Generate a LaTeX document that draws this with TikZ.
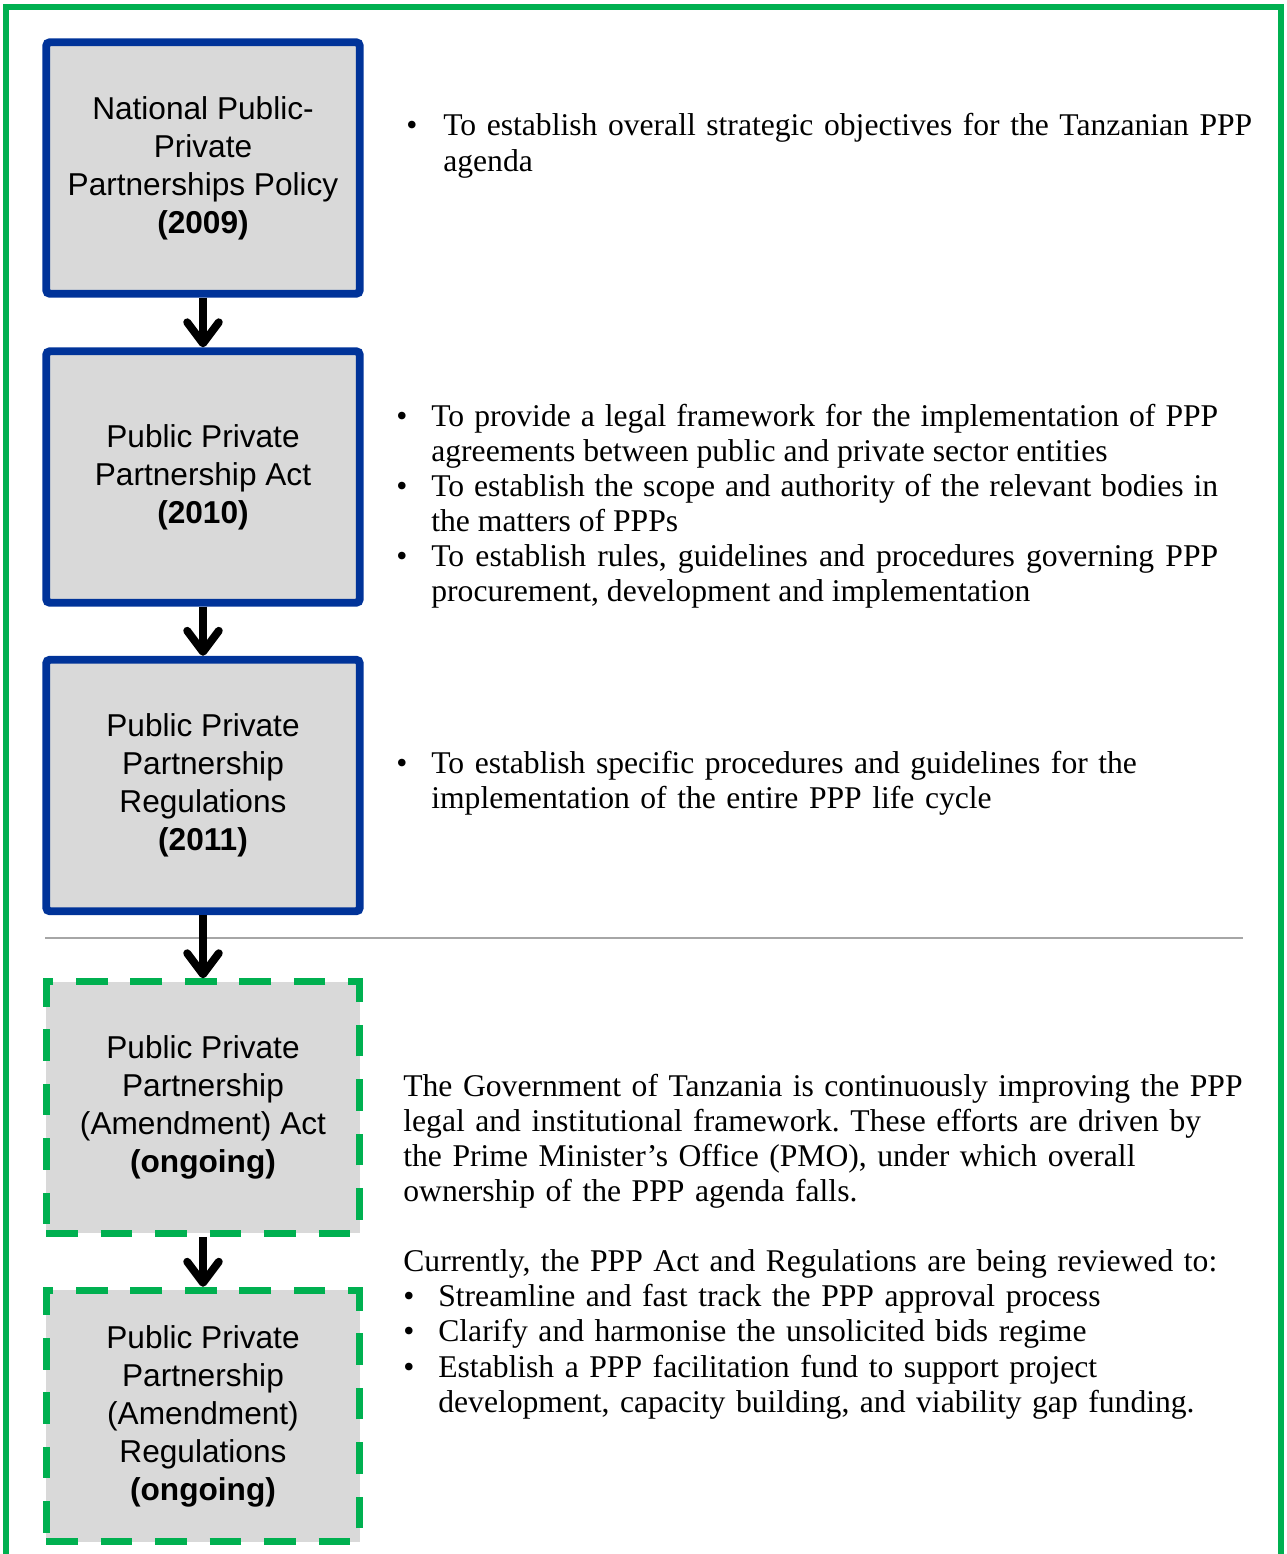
\documentclass[tikz,border=0pt]{standalone}
\usepackage{fontspec}
\setmainfont{Liberation Serif}
\newfontfamily\boxfont{Liberation Sans}
\usetikzlibrary{arrows.meta}

\definecolor{LawBlue}{HTML}{003399}
\definecolor{FrameGreen}{HTML}{00B050}
\definecolor{BoxGrey}{HTML}{D9D9D9}
\definecolor{RuleGrey}{HTML}{A6A6A6}

\newlength{\bulind}
\newcommand{\bitem}[1]{\noindent\hangindent=\bulind\hangafter=1\makebox[\bulind][l]{\textbullet}#1\par}

\tikzset{
    lawbox/.style={draw=LawBlue, line width=4.5pt, fill=BoxGrey, rounded corners=2pt,
        minimum width=6.27cm, minimum height=5.03cm, align=center,
        font=\boxfont\fontsize{18}{21.6}\selectfont},
    draftbox/.style={lawbox, draw=FrameGreen, line width=4pt, rounded corners=0pt,
        dash pattern=on 18pt off 13pt},
    aims/.style={anchor=base west, inner sep=0pt, text width=17.5cm, align=left,
        font=\fontsize{18}{20}\selectfont\frenchspacing},
    flow/.style={line width=4.5pt, -{Straight Barb[round, length=12pt, width=18pt]}},
}

\begin{document}
\begin{tikzpicture}[x=0.02cm, y=-0.02cm]
    \useasboundingbox (0,0) rectangle (1287,1554);

    \draw[FrameGreen, line width=3.4pt] (6,1580) -- (6,7) -- (1281,7) -- (1281,1580);

    \node[lawbox] (policy) at (203,168) {National Public-\\Private\\Partnerships Policy\\\textbf{(2009)}};
    \node[lawbox] (act) at (203,477) {Public Private\\Partnership Act\\\textbf{(2010)}};
    \node[lawbox] (regs) at (203,785.5) {Public Private\\Partnership\\Regulations\\\textbf{(2011)}};
    \node[draftbox] (amendact) at (203,1107.5) {Public Private\\Partnership\\(Amendment) Act\\\textbf{(ongoing)}};
    \node[draftbox] (amendregs) at (203,1416) {Public Private\\Partnership\\(Amendment)\\Regulations\\\textbf{(ongoing)}};

    % in force above the rule, under review below it
    \draw[RuleGrey, line width=1.2pt] (45,938) -- (1243,938);

    \draw[flow] (policy.south) -- (act.north);
    \draw[flow] (act.south) -- (regs.north);
    \draw[flow] (regs.south) -- (amendact.north);
    \draw[flow] (amendact.south) -- (amendregs.north);

    \node[aims] (policyaims) at (406,136) {\setlength{\bulind}{0.74cm}%
        \bitem{To establish overall strategic objectives for the Tanzanian PPP\newline agenda}};
    \node[aims, align=justify, text width=16.44cm] (actaims) at (396,426) {\setlength{\bulind}{0.70cm}%
        \bitem{To provide a legal framework for the implementation of PPP\linebreak agreements between public and private sector entities}%
        \bitem{To establish the scope and authority of the relevant bodies in\linebreak the matters of PPPs}%
        \bitem{To establish rules, guidelines and procedures governing PPP\linebreak procurement, development and implementation}};
    \node[aims] (regsaims) at (396,773) {\setlength{\bulind}{0.70cm}%
        \bitem{To establish specific procedures and guidelines for the\newline implementation of the entire PPP life cycle}};
    \node[aims] (reviewaims) at (403,1096) {\setlength{\bulind}{0.70cm}%
        The Government of Tanzania is continuously improving the PPP\\legal and institutional framework. These efforts are driven by\\the Prime Minister's Office (PMO), under which overall\\ownership of the PPP agenda falls.\par
        \vspace{20pt}\noindent Currently, the PPP Act and Regulations are being reviewed to:\par
        \bitem{Streamline and fast track the PPP approval process}%
        \bitem{Clarify and harmonise the unsolicited bids regime}%
        \bitem{Establish a PPP facilitation fund to support project\newline development, capacity building, and viability gap funding.}};
\end{tikzpicture}
\end{document}
